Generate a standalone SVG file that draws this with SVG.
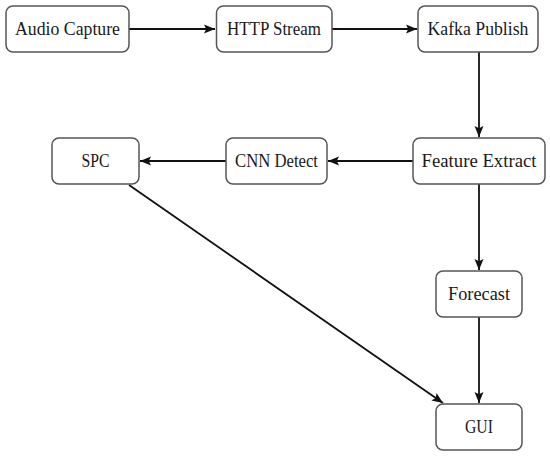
<svg xmlns="http://www.w3.org/2000/svg" width="550" height="456" viewBox="0 0 550 456">
<style>
.box{fill:#fff;stroke:#555;stroke-width:1.5}
.lbl{font-family:"Liberation Serif","DejaVu Serif",serif;font-size:18px;fill:#1a1a1a;text-anchor:middle}
.edge{stroke:#111;stroke-width:1.8;fill:none;marker-end:url(#ah)}
</style>
<defs>
<marker id="ah" markerUnits="userSpaceOnUse" markerWidth="13" markerHeight="11" refX="11" refY="5.5" orient="auto">
<path d="M0,1 L11,5.5 L0,10 L2.2,5.5 Z" fill="#111"/>
</marker>
</defs>
<rect width="550" height="456" fill="#fff"/>
<g id="connectors">
<line class="edge" x1="129" y1="29" x2="215" y2="29"/>
<line class="edge" x1="332" y1="29" x2="417" y2="29"/>
<line class="edge" x1="479" y1="52" x2="479" y2="137"/>
<line class="edge" x1="413" y1="161" x2="328" y2="161"/>
<line class="edge" x1="226" y1="161" x2="140" y2="161"/>
<line class="edge" x1="479" y1="184" x2="479" y2="270"/>
<line class="edge" x1="479" y1="317" x2="479" y2="403"/>
<line class="edge" x1="129" y1="185" x2="443" y2="403"/>
</g>
<g id="audio-capture"><rect class="box" x="6" y="6" width="123" height="46" rx="7"/><text class="lbl" x="67.5" y="35" textLength="105" lengthAdjust="spacingAndGlyphs">Audio Capture</text></g>
<g id="http-stream"><rect class="box" x="216.5" y="6" width="115.5" height="46" rx="7"/><text class="lbl" x="274" y="35" textLength="94" lengthAdjust="spacingAndGlyphs">HTTP Stream</text></g>
<g id="kafka-publish"><rect class="box" x="418" y="6" width="120" height="46" rx="7"/><text class="lbl" x="478" y="35" textLength="101" lengthAdjust="spacingAndGlyphs">Kafka Publish</text></g>
<g id="feature-extract"><rect class="box" x="413" y="138" width="132" height="46" rx="7"/><text class="lbl" x="479" y="167" textLength="115" lengthAdjust="spacingAndGlyphs">Feature Extract</text></g>
<g id="cnn-detect"><rect class="box" x="226" y="138" width="101" height="46" rx="7"/><text class="lbl" x="276.5" y="167" textLength="83" lengthAdjust="spacingAndGlyphs">CNN Detect</text></g>
<g id="spc"><rect class="box" x="52" y="138" width="87" height="46" rx="7"/><text class="lbl" x="95.5" y="167" textLength="28" lengthAdjust="spacingAndGlyphs">SPC</text></g>
<g id="forecast"><rect class="box" x="436" y="271" width="86" height="46" rx="7"/><text class="lbl" x="479" y="300" textLength="62" lengthAdjust="spacingAndGlyphs">Forecast</text></g>
<g id="gui"><rect class="box" x="436" y="404" width="86" height="46" rx="7"/><text class="lbl" x="479" y="433" textLength="28" lengthAdjust="spacingAndGlyphs">GUI</text></g>
</svg>
